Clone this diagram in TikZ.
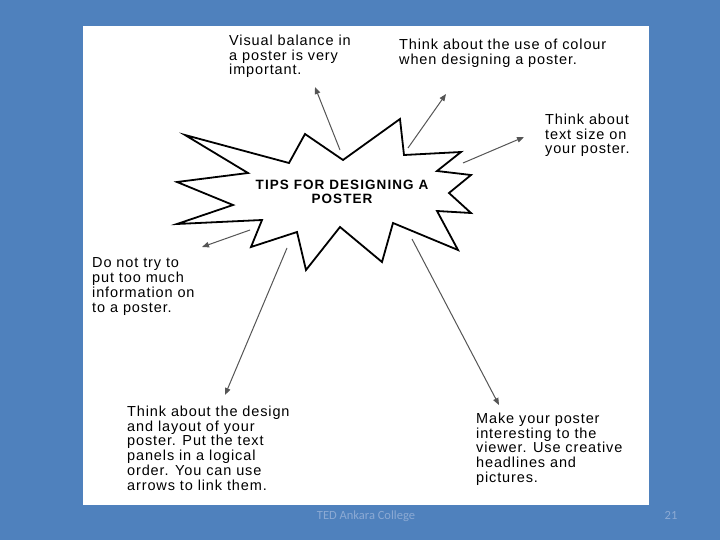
\documentclass[tikz,border=0pt]{standalone}
\usepackage{fontspec}
\setmainfont{Liberation Sans}
\newfontfamily\tipfont[LetterSpace=6]{Liberation Sans}
\newfontfamily\titlefont[LetterSpace=8]{Liberation Sans}
\newfontfamily\footfont{Carlito}
\usetikzlibrary{arrows.meta}
\definecolor{slidebg}{RGB}{79,129,189}
\definecolor{foottext}{RGB}{140,170,212}
\definecolor{arrowgray}{RGB}{85,85,85}
\begin{document}
\begin{tikzpicture}[x=1pt,y=-1pt,
  tipbox/.style={font=\tipfont\fontsize{14.5}{14.8}\selectfont, align=left, anchor=north west, inner sep=0pt, text=black},
  pointer/.style={draw=arrowgray, line width=1pt, -{Triangle[length=7pt,width=5.5pt]}},
  burst/.style={draw=black, line width=1.8pt, fill=white, line join=miter, miter limit=20},
  footer/.style={font=\footfont\fontsize{12.5}{13}\selectfont, text=foottext, anchor=base, inner sep=0pt}]
\useasboundingbox (0,0) rectangle (720,540);
\fill[slidebg] (0,0) rectangle (720,540);
\fill[white] (83,26) rectangle (649,505);

% starburst
\draw[burst] (185,135) -- (289,163) -- (305,134) -- (343,160) -- (400,119) -- (404,155)
  -- (461,152) -- (437,171) -- (471,175) -- (449,193) -- (471,213) -- (437,211)
  -- (458,250) -- (393,223) -- (382,262) -- (340,227) -- (306,270) -- (297,232)
  -- (251,247) -- (262,220) -- (177,224) -- (233,205) -- (177,182) -- (248,173) -- cycle;

\node[font=\titlefont\bfseries\fontsize{13.5}{13.5}\selectfont, align=center, anchor=north, inner sep=0pt] (title) at (342,180) {TIPS FOR DESIGNING A\\POSTER};

% tips
\node[tipbox] (balance) at (229,34.5) {Visual balance in\\a poster is very\\important.};
\node[tipbox] (colour) at (399,38.5) {Think about the use of colour\\when designing a poster.};
\node[tipbox] (size) at (545,113.5) {Think about\\text size on\\your poster.};
\node[tipbox] (much) at (92,257.5) {Do not try to\\put too much\\information on\\to a poster.};
\node[tipbox] (design) at (127,405.5) {Think about the design\\and layout of your\\poster. Put the text\\panels in a logical\\order. You can use\\arrows to link them.};
\node[tipbox] (make) at (476,412.5) {Make your poster\\interesting to the\\viewer. Use creative\\headlines and\\pictures.};

% arrow end points
\coordinate (s1) at (340,150); \coordinate (e1) at (315,87);
\coordinate (s2) at (408,148); \coordinate (e2) at (446,94);
\coordinate (s3) at (463,163); \coordinate (e3) at (524,137);
\coordinate (s4) at (250,230); \coordinate (e4) at (202,247);
\coordinate (s5) at (287,248); \coordinate (e5) at (225,395);
\coordinate (s6) at (412,239); \coordinate (e6) at (499,405);
\draw[pointer] (s1) -- (e1);
\draw[pointer] (s2) -- (e2);
\draw[pointer] (s3) -- (e3);
\draw[pointer] (s4) -- (e4);
\draw[pointer] (s5) -- (e5);
\draw[pointer] (s6) -- (e6);

% footer
\node[footer] (college) at (366,519) {TED Ankara College};
\node[footer] (page) at (671,519) {21};
\end{tikzpicture}
\end{document}
